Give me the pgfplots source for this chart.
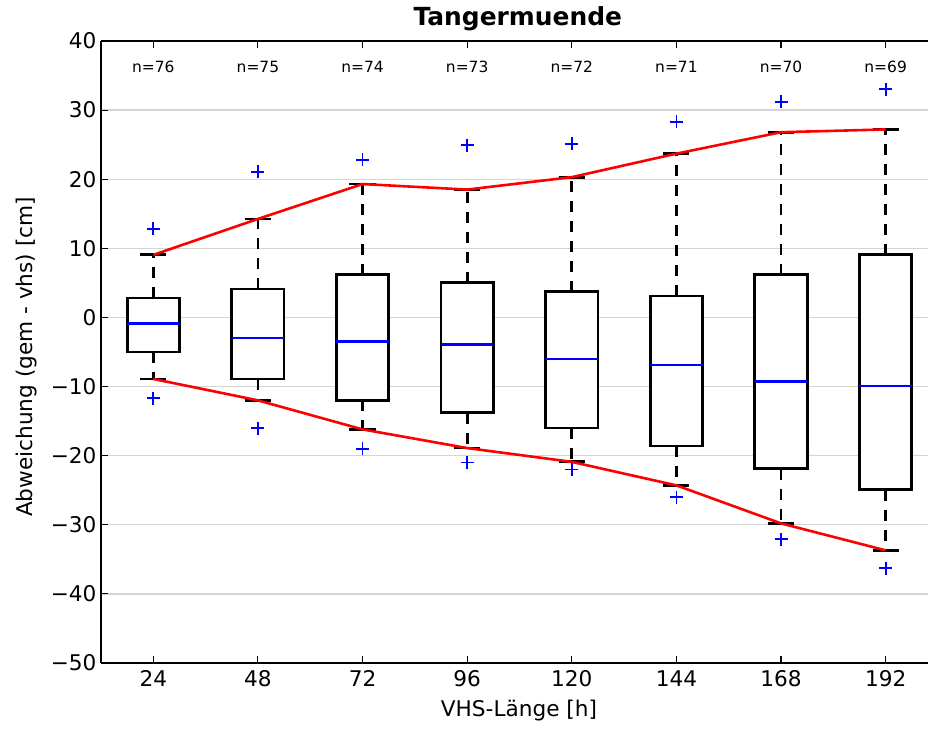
\documentclass[border=0pt]{standalone}
\usepackage{pgfplots}
\pgfplotsset{compat=1.18}
\usepgfplotslibrary{statistics}
\usepackage{fontspec}
\setmainfont{DejaVu Sans}

\begin{document}
\begin{tikzpicture}
\begin{axis}[
  scale only axis,
  width=827bp, height=622bp,
  xmin=0.5, xmax=8.405,
  ymin=-50, ymax=40,
  axis x line*=box, axis y line*=left,
  axis line style={line width=1.6bp, black},
  xtick={1,2,3,4,5,6,7,8},
  xticklabels={24,48,72,96,120,144,168,192},
  ytick={-50,-40,-30,-20,-10,0,10,20,30,40},
  yticklabels={−50,−40,−30,−20,−10,0,10,20,30,40},
  minor tick num=0,
  tick align=inside,
  major tick length=7bp,
  every tick/.style={black, line width=1.1bp},
  ymajorgrids,
  major grid style={line width=1.3bp, color=black!17},
  ticklabel style={font=\fontsize{21.7}{26}\selectfont},
  xticklabel style={yshift=-4bp},
  yticklabel style={xshift=-1bp},
  title={Tangermuende},
  title style={font=\fontsize{25}{30}\selectfont\bfseries, at={(axis description cs:0.504,1.015)}, anchor=base},
  xlabel={VHS-Länge [h]},
  xlabel style={font=\fontsize{21.7}{26}\selectfont, at={(axis description cs:0.5054,-0.0863)}, anchor=base},
  ylabel={Abweichung (gem - vhs) [cm]},
  ylabel style={font=\fontsize{21.7}{26}\selectfont, at={(axis description cs:-0.0834,0.492)}, anchor=base},
  boxplot/draw direction=y,
  boxplot/box extend=0.5,
  boxplot/whisker extend=0.25,
  boxplot/every box/.style={draw=black, fill=white, line width=2.8bp},
  boxplot/every whisker/.style={black, line width=2.8bp, dash pattern=on 11bp off 9bp},
  boxplot/every median/.style={blue, line width=2.6bp},
]

% boxes (lower whisker, lower quartile, median, upper quartile, upper whisker)
\addplot[black, boxplot prepared={draw position=1, lower whisker=-8.9, lower quartile=-5.0, median=-0.9, upper quartile=2.8, upper whisker=9.05}] coordinates {};
\addplot[black, boxplot prepared={draw position=2, lower whisker=-12.0, lower quartile=-8.9, median=-3.0, upper quartile=4.1, upper whisker=14.25}] coordinates {};
\addplot[black, boxplot prepared={draw position=3, lower whisker=-16.2, lower quartile=-12.0, median=-3.5, upper quartile=6.2, upper whisker=19.3}] coordinates {};
\addplot[black, boxplot prepared={draw position=4, lower whisker=-18.9, lower quartile=-13.8, median=-3.9, upper quartile=5.0, upper whisker=18.5}] coordinates {};
\addplot[black, boxplot prepared={draw position=5, lower whisker=-20.9, lower quartile=-16.0, median=-6.0, upper quartile=3.7, upper whisker=20.3}] coordinates {};
\addplot[black, boxplot prepared={draw position=6, lower whisker=-24.3, lower quartile=-18.6, median=-6.9, upper quartile=3.1, upper whisker=23.7, every median/.style={blue, line width=1.6bp}}] coordinates {};
\addplot[black, boxplot prepared={draw position=7, lower whisker=-29.8, lower quartile=-21.9, median=-9.3, upper quartile=6.2, upper whisker=26.8}] coordinates {};
\addplot[black, boxplot prepared={draw position=8, lower whisker=-33.7, lower quartile=-24.9, median=-9.9, upper quartile=9.05, upper whisker=27.2}] coordinates {};

% solid whisker caps
\addplot[black, line width=2.8bp, unbounded coords=jump, mark=none] coordinates {
 (0.875,9.05) (1.125,9.05) (1,nan) (0.875,-8.9) (1.125,-8.9) (1,nan)
 (1.875,14.25) (2.125,14.25) (2,nan) (1.875,-12.0) (2.125,-12.0) (2,nan)
 (2.875,19.3) (3.125,19.3) (3,nan) (2.875,-16.2) (3.125,-16.2) (3,nan)
 (3.875,18.5) (4.125,18.5) (4,nan) (3.875,-18.9) (4.125,-18.9) (4,nan)
 (4.875,20.3) (5.125,20.3) (5,nan) (4.875,-20.9) (5.125,-20.9) (5,nan)
 (5.875,23.7) (6.125,23.7) (6,nan) (5.875,-24.3) (6.125,-24.3) (6,nan)
 (6.875,26.8) (7.125,26.8) (7,nan) (6.875,-29.8) (7.125,-29.8) (7,nan)
 (7.875,27.2) (8.125,27.2) (8,nan) (7.875,-33.7) (8.125,-33.7)
};

% red envelope through whisker ends
\addplot[red, line width=2.6bp, mark=none] coordinates {
 (1,9.05) (2,14.25) (3,19.3) (4,18.5) (5,20.3) (6,23.7) (7,26.8) (8,27.2)};
\addplot[red, line width=2.6bp, mark=none] coordinates {
 (1,-8.9) (2,-12.0) (3,-16.2) (4,-18.9) (5,-20.9) (6,-24.3) (7,-29.8) (8,-33.7)};

% outliers
\addplot[only marks, mark=+, blue, mark size=6.5bp, mark options={line width=1.8bp}] coordinates {
 (1,12.8) (2,21.1) (3,22.8) (4,24.9) (5,25.1) (6,28.3) (7,31.2) (8,33.0)
 (1,-11.7) (2,-16.0) (3,-19.0) (4,-21.0) (5,-22.0) (6,-26.0) (7,-32.1) (8,-36.3)};

% sample sizes
\addplot[draw=none, mark=none, nodes near coords, point meta=explicit symbolic,
  every node near coord/.append style={anchor=center, black, font=\fontsize{15.5}{18}\selectfont}]
  coordinates {(1,36.3) [n=76] (2,36.3) [n=75] (3,36.3) [n=74] (4,36.3) [n=73]
               (5,36.3) [n=72] (6,36.3) [n=71] (7,36.3) [n=70] (8,36.3) [n=69]};
\end{axis}
\pgfresetboundingbox
\path ([shift={(-101bp,-70bp)}]current axis.south west) rectangle ([shift={(0bp,41bp)}]current axis.north east);
\end{tikzpicture}
\end{document}
